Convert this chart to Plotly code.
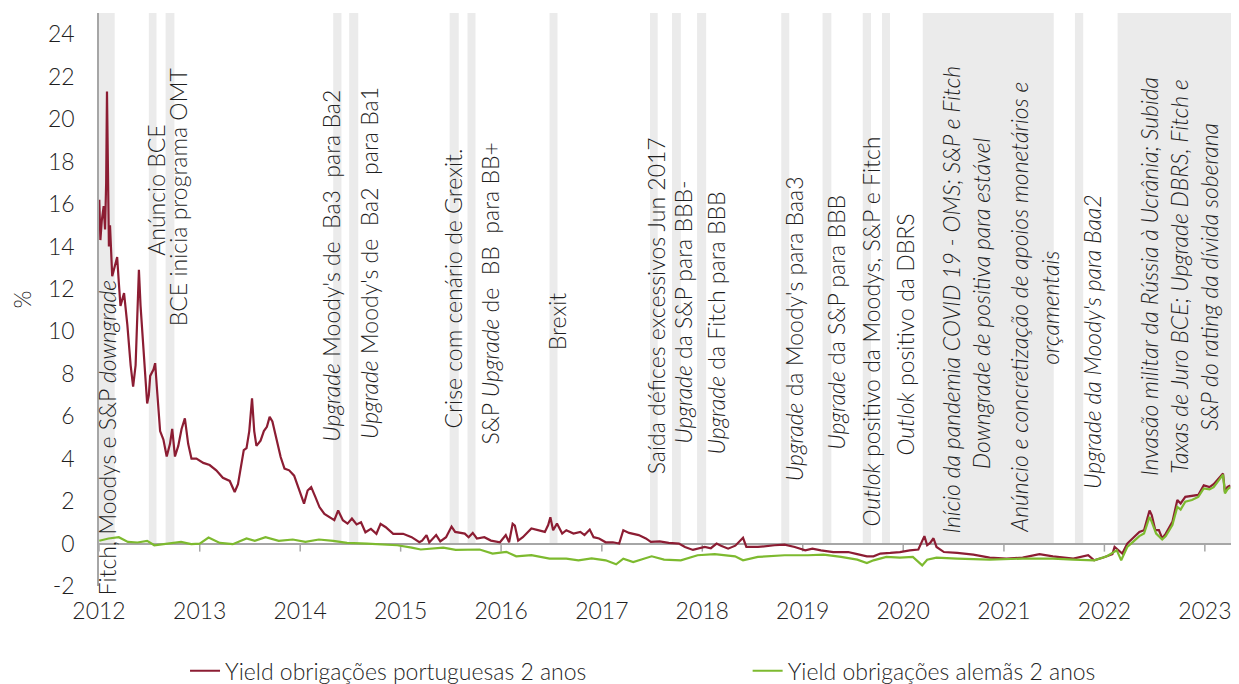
import plotly.graph_objects as go

# Yield obrigações portuguesas 2 anos (%)
PT_DATES = [
    "2012-01-02", "2012-01-06", "2012-01-11", "2012-01-18", "2012-01-23", "2012-01-27", "2012-01-30",
    "2012-02-02", "2012-02-06", "2012-02-10", "2012-02-18", "2012-03-01", "2012-03-07", "2012-03-13",
    "2012-03-19", "2012-04-01", "2012-04-13", "2012-04-25", "2012-05-04", "2012-05-13", "2012-05-19",
    "2012-05-25", "2012-05-31", "2012-06-12", "2012-06-24", "2012-06-30", "2012-07-05", "2012-07-17",
    "2012-07-23", "2012-07-29", "2012-08-10", "2012-08-22", "2012-09-03", "2012-09-15", "2012-09-23",
    "2012-10-03", "2012-10-15", "2012-10-27", "2012-11-08", "2012-11-20", "2012-12-02", "2012-12-20",
    "2013-01-14", "2013-02-06", "2013-03-02", "2013-03-26", "2013-04-20", "2013-05-08", "2013-05-20",
    "2013-06-10", "2013-06-20", "2013-06-30", "2013-07-10", "2013-07-18", "2013-07-26", "2013-08-10",
    "2013-08-22", "2013-09-02", "2013-09-12", "2013-09-22", "2013-10-05", "2013-10-22", "2013-11-05",
    "2013-11-22", "2013-12-10", "2013-12-28", "2014-01-15", "2014-01-28", "2014-02-10", "2014-02-25",
    "2014-03-12", "2014-03-30", "2014-04-16", "2014-05-05", "2014-05-19", "2014-06-05", "2014-06-22",
    "2014-07-08", "2014-07-25", "2014-08-10", "2014-08-26", "2014-09-15", "2014-10-05", "2014-10-20",
    "2014-11-08", "2014-12-05", "2015-01-10", "2015-02-10", "2015-03-10", "2015-03-20", "2015-04-05",
    "2015-04-15", "2015-05-10", "2015-05-25", "2015-06-15", "2015-07-05", "2015-07-18", "2015-08-22",
    "2015-09-05", "2015-09-20", "2015-10-05", "2015-11-01", "2015-11-25", "2015-12-28", "2016-01-18",
    "2016-01-30", "2016-02-12", "2016-02-20", "2016-03-03", "2016-03-20", "2016-04-20", "2016-05-15",
    "2016-06-08", "2016-06-20", "2016-06-28", "2016-07-08", "2016-07-22", "2016-08-10", "2016-08-25",
    "2016-09-20", "2016-10-15", "2016-10-30", "2016-11-18", "2016-12-02", "2016-12-22", "2017-01-15",
    "2017-02-10", "2017-03-05", "2017-03-20", "2017-04-10", "2017-05-15", "2017-06-10", "2017-06-28",
    "2017-07-30", "2017-09-01", "2017-10-08", "2017-10-30", "2017-11-28", "2017-12-15", "2018-01-10",
    "2018-02-01", "2018-02-22", "2018-03-10", "2018-04-05", "2018-05-01", "2018-05-29", "2018-06-10",
    "2018-07-22", "2018-09-20", "2018-10-27", "2018-12-03", "2019-01-10", "2019-02-05", "2019-03-08",
    "2019-04-22", "2019-06-15", "2019-07-18", "2019-08-22", "2019-09-15", "2019-10-10", "2019-11-15",
    "2019-12-20", "2020-01-25", "2020-02-25", "2020-03-18", "2020-03-28", "2020-04-08", "2020-04-20",
    "2020-05-01", "2020-05-28", "2020-07-15", "2020-09-12", "2020-11-10", "2021-01-10", "2021-03-10",
    "2021-04-05", "2021-05-10", "2021-06-28", "2021-09-10", "2021-11-03", "2021-11-25", "2021-12-28",
    "2022-01-30", "2022-02-07", "2022-02-20", "2022-03-07", "2022-03-25", "2022-04-15", "2022-05-08",
    "2022-05-25", "2022-06-14", "2022-06-22", "2022-07-05", "2022-07-18", "2022-07-30", "2022-08-12",
    "2022-09-05", "2022-09-23", "2022-10-05", "2022-10-22", "2022-11-15", "2022-12-08", "2022-12-28",
    "2023-01-18", "2023-02-02", "2023-02-20", "2023-03-08", "2023-03-15", "2023-03-24", "2023-04-03",
]
PT_YIELD = [
    16.2, 14.3, 15.2, 15.9, 14.8, 17.0, 21.3,
    16.5, 14.0, 15.0, 12.6, 13.2, 13.5, 12.3,
    11.2, 11.8, 10.3, 8.4, 7.4, 8.4, 10.5,
    12.9, 11.2, 8.9, 6.6, 7.0, 7.9, 8.2,
    8.5, 7.4, 5.3, 4.9, 4.1, 4.7, 5.4,
    4.1, 4.6, 5.4, 5.9, 4.7, 4.0, 4.0,
    3.8, 3.7, 3.45, 3.1, 2.95, 2.43, 2.8,
    4.4, 4.5, 5.3, 6.84, 5.3, 4.6, 4.85,
    5.3, 5.5, 5.97, 5.75, 5.0, 4.08, 3.53,
    3.45, 3.2, 2.5, 1.88, 2.5, 2.66, 2.2,
    1.72, 1.4, 1.25, 1.1, 1.56, 1.1, 0.94,
    1.18, 0.9, 1.0, 0.53, 0.69, 0.46, 0.93,
    0.77, 0.46, 0.46, 0.3, 0.06, 0.14, 0.4,
    0.05, 0.4, 0.1, 0.3, 0.8, 0.55, 0.47,
    0.3, 0.5, 0.24, 0.3, 0.14, 0.06, 0.4,
    0.06, 0.93, 0.85, 0.14, 0.3, 0.71, 0.63,
    0.55, 0.87, 1.24, 0.63, 0.94, 0.47, 0.63,
    0.47, 0.55, 0.4, 0.66, 0.3, 0.24, 0.06,
    0.06, 0.0, 0.63, 0.5, 0.4, 0.24, 0.08,
    0.1, 0.03, 0.0, -0.16, -0.3, -0.24, -0.16,
    -0.22, 0.0, -0.1, -0.24, -0.1, 0.27, -0.16,
    -0.16, -0.08, -0.05, -0.16, -0.32, -0.24, -0.32,
    -0.4, -0.4, -0.5, -0.6, -0.6, -0.47, -0.44,
    -0.4, -0.32, -0.28, 0.35, -0.08, 0.03, 0.25,
    -0.16, -0.4, -0.44, -0.52, -0.66, -0.71, -0.66,
    -0.6, -0.5, -0.6, -0.71, -0.55, -0.79, -0.66,
    -0.5, -0.16, -0.32, -0.47, 0.0, 0.24, 0.55,
    0.63, 1.56, 1.34, 0.63, 0.63, 0.24, 0.47,
    1.02, 2.05, 1.89, 2.2, 2.24, 2.29, 2.74,
    2.66, 2.8, 3.05, 3.3, 2.43, 2.66, 2.74,
]

# Yield obrigações alemãs 2 anos (%)
DE_DATES = [
    "2012-01-02", "2012-02-05", "2012-03-13", "2012-04-15", "2012-05-20", "2012-06-24", "2012-07-20",
    "2012-09-15", "2012-10-25", "2012-12-01", "2013-01-01", "2013-02-02", "2013-03-15", "2013-05-01",
    "2013-06-20", "2013-07-20", "2013-08-28", "2013-10-15", "2013-12-05", "2014-01-20", "2014-03-10",
    "2014-05-01", "2014-06-20", "2014-09-01", "2014-11-05", "2014-12-20", "2015-02-10", "2015-03-15",
    "2015-06-05", "2015-07-20", "2015-10-15", "2015-12-01", "2016-01-20", "2016-02-25", "2016-04-20",
    "2016-06-25", "2016-08-25", "2016-10-08", "2016-11-25", "2017-01-15", "2017-02-22", "2017-03-20",
    "2017-04-25", "2017-07-01", "2017-08-15", "2017-10-15", "2017-12-15", "2018-02-15", "2018-04-30",
    "2018-05-29", "2018-07-22", "2018-10-27", "2019-01-20", "2019-03-18", "2019-05-20", "2019-07-18",
    "2019-08-22", "2019-09-15", "2019-11-01", "2019-12-20", "2020-02-05", "2020-03-10", "2020-03-28",
    "2020-05-01", "2020-07-15", "2020-11-10", "2021-03-10", "2021-06-28", "2021-09-10", "2021-11-25",
    "2022-01-10", "2022-02-15", "2022-03-03", "2022-03-25", "2022-04-15", "2022-05-08", "2022-05-25",
    "2022-06-14", "2022-06-22", "2022-07-08", "2022-07-30", "2022-08-12", "2022-09-05", "2022-09-23",
    "2022-10-05", "2022-10-22", "2022-11-15", "2022-12-08", "2022-12-28", "2023-01-18", "2023-02-02",
    "2023-02-20", "2023-03-08", "2023-03-15", "2023-03-24", "2023-04-03",
]
DE_YIELD = [
    0.13, 0.24, 0.3, 0.08, 0.05, 0.13, -0.08,
    0.03, 0.08, -0.03, 0.0, 0.28, 0.03, -0.03,
    0.24, 0.13, 0.3, 0.13, 0.19, 0.08, 0.19,
    0.13, 0.03, 0.0, -0.03, -0.08, -0.19, -0.28,
    -0.19, -0.3, -0.28, -0.47, -0.39, -0.6, -0.55,
    -0.71, -0.71, -0.79, -0.7, -0.79, -0.98, -0.71,
    -0.87, -0.6, -0.76, -0.79, -0.55, -0.5, -0.6,
    -0.79, -0.63, -0.55, -0.55, -0.52, -0.63, -0.76,
    -0.92, -0.79, -0.63, -0.66, -0.63, -1.03, -0.76,
    -0.66, -0.71, -0.76, -0.71, -0.71, -0.76, -0.79,
    -0.6, -0.32, -0.79, -0.16, 0.08, 0.35, 0.47,
    1.26, 1.02, 0.47, 0.19, 0.35, 0.87, 1.73,
    1.6, 1.97, 2.05, 2.2, 2.6, 2.55, 2.66,
    2.97, 3.25, 2.36, 2.55, 2.66,
]

# periods of events (grey bars)
BAND_START = [
    "2012-01-01", "2012-06-30", "2012-08-30", "2014-05-01", "2014-06-28", "2015-06-28",
    "2015-09-01", "2016-06-25", "2017-06-25", "2017-09-13", "2017-12-13", "2018-10-15",
    "2019-03-14", "2019-08-07", "2019-10-16", "2020-03-12", "2021-09-16", "2022-02-18",
]
BAND_END = [
    "2012-02-27", "2012-07-28", "2012-10-01", "2014-05-31", "2014-07-31", "2015-07-31",
    "2015-09-30", "2016-07-24", "2017-07-23", "2017-10-15", "2018-01-15", "2018-11-13",
    "2019-04-15", "2019-09-06", "2019-11-14", "2021-07-01", "2021-10-16", "2023-04-06",
]

NB = "\u00a0"
EVENT_TEXT = [
    "Fitch, Moodys e S&P <i>downgrade</i>",
    "Anúncio BCE",
    "BCE inicia programa OMT",
    f"<i>Upgrade</i> Moody's de {NB}Ba3 {NB}para Ba2",
    f"<i>Upgrade</i> Moody's de {NB}Ba2 {NB}para Ba1",
    "Crise com cenário de Grexit.",
    f"S&P <i>Upgrade</i> de {NB}BB {NB}para BB+",
    "Brexit",
    "Saída défices excessivos Jun 2017",
    "<i>Upgrade</i> da S&P para BBB-",
    "<i>Upgrade</i> da Fitch para BBB",
    "<i>Upgrade</i> da Moody's para Baa3",
    "<i>Upgrade</i> da S&P para BBB",
    "<i>Outlok</i> positivo da Moodys, S&P e Fitch",
    "<i>Outlok</i> positivo da DBRS",
    "<i>Início da pandemia COVID 19 - OMS; S&P e Fitch</i>",
    "<i>Downgrade de positiva para estável</i>",
    "<i>Anúncio e concretização de apoios monetários e</i>",
    "<i>orçamentais</i>",
    "<i>Upgrade da Moody's para Baa2</i>",
    "<i>Invasão militar da Rússia à Ucrânia; Subida</i>",
    "<i>Taxas de Juro BCE; Upgrade DBRS, Fitch e</i>",
    "<i>S&P do rating da dívida soberana</i>",
]
# label placement (x date, y centre in %)
EVENT_POS = [
    ("2012-01-30", 5.0), ("2012-07-26", 16.67), ("2012-10-12", 16.34), ("2014-04-20", 13.1),
    ("2014-09-06", 13.24), ("2015-07-11", 12.03), ("2015-11-23", 11.8), ("2016-07-20", 10.5),
    ("2017-07-15", 11.2), ("2017-10-25", 10.9), ("2018-02-19", 10.4), ("2018-11-28", 10.12),
    ("2019-05-04", 10.43), ("2019-09-05", 9.98), ("2020-01-06", 9.83), ("2020-06-22", 11.49),
    ("2020-10-09", 11.32), ("2021-02-25", 11.11), ("2021-06-17", 11.11), ("2021-11-17", 9.5),
    ("2022-06-10", 12.58), ("2022-09-26", 12.58), ("2023-01-13", 12.58),
]

YEAR_TICKS = [f"{y}-01-01" for y in range(2012, 2024)]
YEAR_LABELS = [str(y) for y in range(2012, 2024)]
Y_TICKS = list(range(-2, 25, 2))
Y_LABELS = [str(v) for v in Y_TICKS]

FONT = "Lato"
TXT = "#1f1f1f"
AXIS = "#a6a6a6"
FS = 23


def fnt(size=FS):
    return dict(family=FONT, size=size, color=TXT, weight=300)


fig = go.Figure()

fig.add_trace(go.Scatter(
    x=PT_DATES, y=PT_YIELD, mode="lines",
    name="Yield obrigações portuguesas 2 anos",
    line=dict(color="#8c1d33", width=2.2),
    legend="legend",
))
fig.add_trace(go.Scatter(
    x=DE_DATES, y=DE_YIELD, mode="lines",
    name="Yield obrigações alemãs 2 anos",
    line=dict(color="#7dba2f", width=2.2),
    legend="legend2",
))

shapes = []
for s, e in zip(BAND_START, BAND_END):
    shapes.append(dict(type="rect", xref="x", yref="y", x0=s, x1=e, y0=0, y1=25,
                       fillcolor="#ebebeb", line=dict(width=0), layer="below"))
for t in YEAR_TICKS:
    shapes.append(dict(type="line", xref="x", yref="y", x0=t, x1=t, y0=0, y1=-0.38,
                       line=dict(color=AXIS, width=1.5), layer="below"))

annotations = []
for txt, (xd, yv) in zip(EVENT_TEXT, EVENT_POS):
    annotations.append(dict(
        x=xd, y=yv, xref="x", yref="y", text=txt, textangle=-90, showarrow=False,
        xanchor="center", yanchor="middle", font=fnt(),
    ))

leg = dict(orientation="h", y=-0.148, yanchor="middle", xanchor="left",
           font=fnt(), bgcolor="rgba(0,0,0,0)")

# the page body adds an 8px offset, margins are set to compensate
fig.update_layout(
    width=1223, height=676,
    margin=dict(l=91, r=0, t=5, b=98, autoexpand=False),
    plot_bgcolor="white", paper_bgcolor="white",
    font=fnt(),
    shapes=shapes,
    annotations=annotations,
    showlegend=True,
    legend=dict(leg, x=0.076),
    legend2=dict(leg, x=0.573),
    xaxis=dict(
        type="date", range=["2012-01-01", "2023-04-06"],
        tickvals=YEAR_TICKS, ticktext=YEAR_LABELS,
        showgrid=False, showline=False, zeroline=False, automargin=False,
        ticks="outside", ticklen=4, tickcolor="rgba(0,0,0,0)",
        ticklabeloverflow="allow",
        tickfont=fnt(),
    ),
    yaxis=dict(
        range=[-2, 25], tickvals=Y_TICKS, ticktext=Y_LABELS, automargin=False,
        showgrid=False, showline=True, linecolor=AXIS, linewidth=1.5,
        zeroline=True, zerolinecolor=AXIS, zerolinewidth=1.5,
        ticks="outside", ticklen=18, tickcolor="rgba(0,0,0,0)",
        tickfont=fnt(),
        title=dict(text="%", standoff=16, font=fnt()),
    ),
)

fig.write_html("out.html")
